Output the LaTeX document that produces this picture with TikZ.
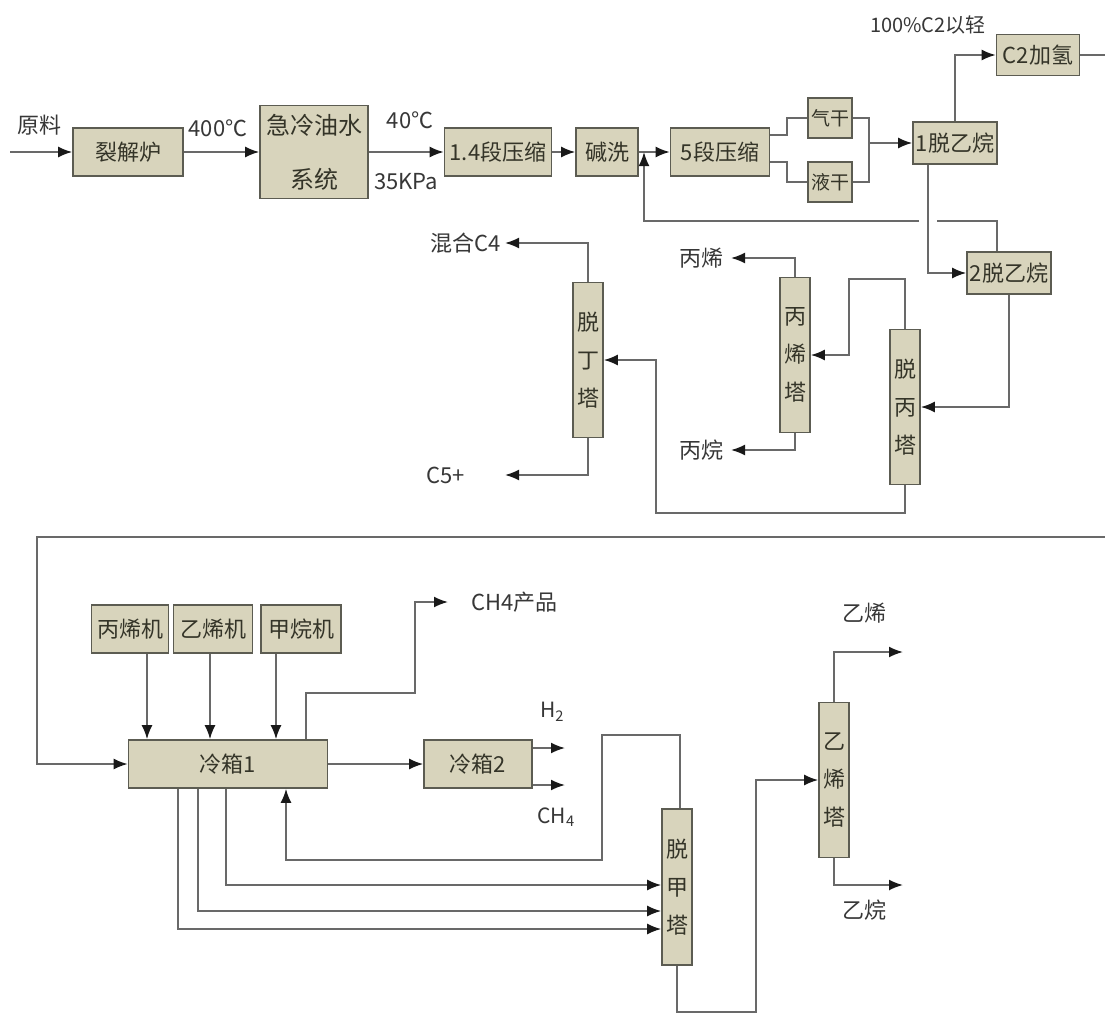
\documentclass[tikz,border=0pt]{standalone}
\usepackage{fontspec}
\setmainfont{Noto Sans CJK SC}
\usetikzlibrary{positioning,arrows.meta}
\definecolor{boxfill}{RGB}{216,212,188}
\definecolor{boxline}{RGB}{92,92,82}
\definecolor{boxtext}{RGB}{52,52,40}
\definecolor{flowline}{RGB}{105,105,105}
\definecolor{tipcol}{RGB}{25,25,25}
\definecolor{labeltext}{RGB}{55,55,55}

\begin{document}
\begin{tikzpicture}[
    x=1pt, y=-1pt,
    font=\fontsize{22}{26}\selectfont,
    b/.style={draw=boxline, fill=boxfill, line width=1.6pt, inner sep=0pt, align=center, text=boxtext, minimum height=48pt},
    col/.style={b, minimum width=30pt, minimum height=155pt, font=\fontsize{22}{38}\selectfont},
    ln/.style={draw=flowline, line width=1.8pt},
    fl/.style={ln, -{Latex[length=14pt,width=11pt,color=tipcol]}},
    lb/.style={text=labeltext, inner sep=0pt},
]
    \fill[white] (0,0) rectangle (1105,1015);
    \useasboundingbox (0,0) rectangle (1105,1015);

    % top row: cracking, quench, compression, drying
    \node[b, minimum width=110pt] (crack) at (128,152) {裂解炉};
    \node[b, minimum width=108pt, minimum height=93pt, font=\fontsize{24}{54}\selectfont] (quench) at (314,152) {急冷油水\\系统};
    \node[b, minimum width=107pt] (comp14) at (498,152) {1.4段压缩};
    \node[b, minimum width=62pt] (caustic) at (607,152) {碱洗};
    \node[b, minimum width=99pt] (comp5) at (720,152) {5段压缩};
    \node[b, minimum width=44pt, minimum height=40pt, font=\fontsize{19}{22}\selectfont] (gasdry) at (830,118) {气干};
    \node[b, minimum width=44pt, minimum height=40pt, font=\fontsize{19}{22}\selectfont] (liqdry) at (830,182) {液干};
    \node[b, minimum width=84pt, minimum height=42pt] (deeth1) at (955,143) {1脱乙烷};
    \node[b, minimum width=83pt, minimum height=41pt] (hydro) at (1038,55) {C2加氢};
    \node[b, minimum width=84pt, minimum height=42pt] (deeth2) at (1009,273) {2脱乙烷};

    % heavy end columns
    \node[col] (debut) at (588,360) {脱\\丁\\塔};
    \node[col] (c3split) at (795,355) {丙\\烯\\塔};
    \node[col] (deprop) at (905,407) {脱\\丙\\塔};

    % cold section
    \node[b, minimum width=77pt] (propref) at (130,629) {丙烯机};
    \node[b, minimum width=79pt] (ethref) at (213,629) {乙烯机};
    \node[b, minimum width=80pt] (methref) at (301,629) {甲烷机};
    \node[b, minimum width=199pt] (cold1) at (228,764) {冷箱1};
    \node[b, minimum width=108pt] (cold2) at (478,764) {冷箱2};
    \node[col, minimum height=156pt] (demeth) at (677,887) {脱\\甲\\塔};
    \node[col] (c2split) at (834,780) {乙\\烯\\塔};

    % free ends of the streams
    \coordinate (feed) at (10,152);
    \coordinate (dryjoin) at (869,143);
    \coordinate (hydroout) at (1105,55);
    \coordinate (gapR) at (937,221);
    \coordinate (gapL) at (919,221);
    \coordinate (rcy) at (644,152);
    \coordinate (c3in) at (849,279);
    \coordinate (c4in) at (656,513);
    \coordinate (mixc4) at (505,243);
    \coordinate (c5out) at (505,475);
    \coordinate (propy) at (731,258);
    \coordinate (propa) at (731,450);
    \coordinate (botin) at (1105,537);
    \coordinate (botturn) at (37,537);
    \coordinate (ch4turn) at (415,693);
    \coordinate (ch4out) at (448,602);
    \coordinate (h2out) at (565,748);
    \coordinate (ch4gas) at (565,785);
    \coordinate (retA) at (602,735);
    \coordinate (retB) at (286,860);
    \coordinate (c2turn) at (756,1012);
    \coordinate (ethy) at (903,652);
    \coordinate (etha) at (903,885);

    % labels
    \node[lb] (feedlb) at (39,125) {原料};
    \node[lb] (t400) at (218,128) {400℃};
    \node[lb] (t40) at (410,120) {40℃};
    \node[lb] (p35) at (406,182) {35KPa};
    \node[lb, font=\fontsize{20}{24}\selectfont] (lightlb) at (928,25) {100\%C2以轻};
    \node[lb, left=4pt of mixc4] (mixc4lb) {混合C4};
    \node[lb, left=40pt of c5out] (c5lb) {C5+};
    \node[lb, left=7pt of propy] (propylb) {丙烯};
    \node[lb, left=7pt of propa] (propalb) {丙烷};
    \node[lb, right=23pt of ch4out] (ch4lb) {CH4产品};
    \node[lb, font=\fontsize{21}{24}\selectfont] (h2lb) at (552,712) {H\textsubscript{2}};
    \node[lb, font=\fontsize{21}{24}\selectfont] (ch4lbl) at (556,817) {CH\textsubscript{4}};
    \node[lb] (ethylb) at (864,613) {乙烯};
    \node[lb] (ethalb) at (864,910) {乙烷};

    % top row streams
    \draw[fl] (feed) -- (crack.west);
    \draw[fl] (crack) -- (quench);
    \draw[fl] (quench) -- (comp14);
    \draw[fl] (comp14) -- (caustic);
    \draw[fl] (caustic) -- (comp5);
    \draw[ln] ([yshift=17pt]comp5.east) -- ++(17,0) |- (gasdry.west);
    \draw[ln] ([yshift=-10pt]comp5.east) -- ++(17,0) |- (liqdry.west);
    \draw[ln] (gasdry.east) -| (dryjoin) |- (liqdry.east);
    \draw[fl] (dryjoin) -- (deeth1.west);
    \draw[fl] (deeth1.north) |- (hydro.west);
    \draw[ln] (hydro.east) -- (hydroout);
    \draw[fl] ([xshift=-27pt]deeth1.south) |- (deeth2.west);
    \draw[ln] ([xshift=-12pt]deeth2.north) |- (gapR);
    \draw[fl] (gapL) -| (rcy);

    % C3 / C4 separation
    \draw[fl] (deeth2.south) |- (deprop.east);
    \draw[fl] (deprop.north) |- (c3in) |- (c3split.east);
    \draw[fl] (deprop.south) |- (c4in) |- (debut.east);
    \draw[fl] (debut.north) |- (mixc4);
    \draw[fl] (debut.south) |- (c5out);
    \draw[fl] (c3split.north) |- (propy);
    \draw[fl] (c3split.south) |- (propa);

    % cold section streams
    \draw[fl] (botin) -- (botturn) |- (cold1.west);
    \foreach \r/\dx in {propref/17, ethref/-3, methref/-25}
        \draw[fl] ([xshift=\dx pt]\r.south) -- ([xshift=\dx pt]\r.south |- cold1.north);
    \draw[fl] ([xshift=78pt]cold1.north) |- (ch4turn) |- (ch4out);
    \draw[fl] (cold1) -- (cold2);
    \draw[fl] (cold2.east |- h2out) -- (h2out);
    \draw[fl] (cold2.east |- ch4gas) -- (ch4gas);
    \draw[fl] ([xshift=3pt]demeth.north) |- (retA) |- (retB) -- (retB |- cold1.south);
    \foreach \dx/\fy in {-2/885, -30/911, -50/929} {
        \coordinate (feedy) at (0,\fy);
        \draw[fl] ([xshift=\dx pt]cold1.south) |- (demeth.west |- feedy);
    }
    \draw[fl] (demeth.south) |- (c2turn) |- (c2split.west);
    \draw[fl] (c2split.north) |- (ethy);
    \draw[fl] (c2split.south) |- (etha);
\end{tikzpicture}
\end{document}
